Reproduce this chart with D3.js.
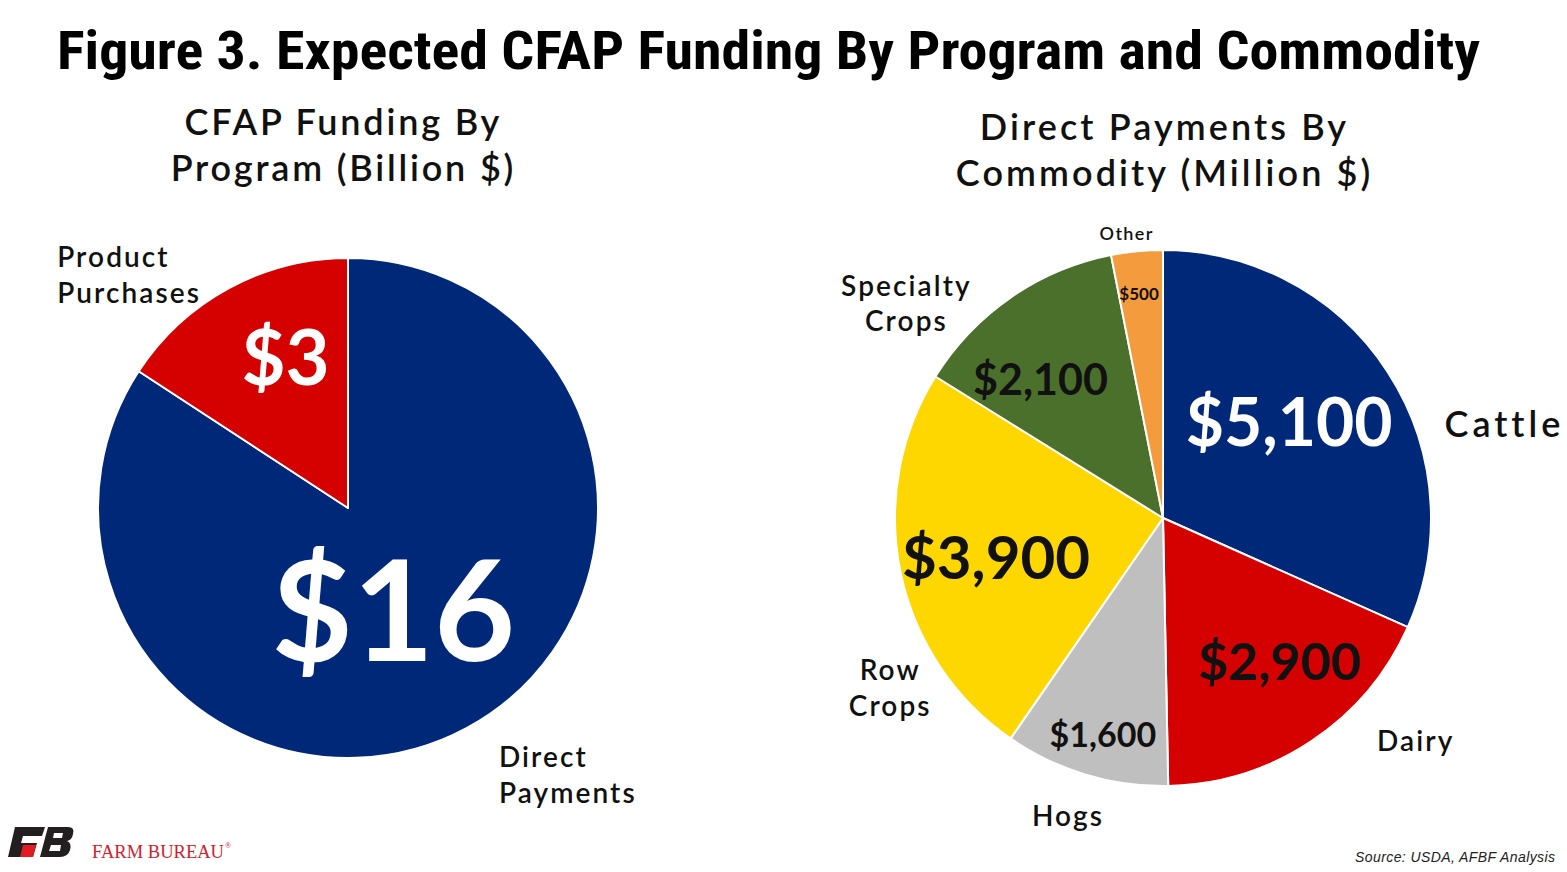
<!DOCTYPE html>
<html><head><meta charset="utf-8">
<script src="https://cdn.jsdelivr.net/npm/d3@7"></script>
<style>
body{margin:0;background:#fff;}
svg{display:block;}
.lbl{font-family:"Lato","Open Sans",sans-serif;font-weight:700;fill:#111;}
</style></head>
<body>
<svg id="chart" width="1567" height="872"></svg>
<script>
// ---- data ----
const titleText = "Figure 3. Expected CFAP Funding By Program and Commodity";
const leftTitle = ["CFAP Funding By", "Program (Billion $)"];
const rightTitle = ["Direct Payments By", "Commodity (Million $)"];

const programs = ["Direct Payments", "Product Purchases"];
const programValues = [16, 3];
const programValueLabels = ["$16", "$3"];

const commodities = ["Cattle", "Dairy", "Hogs", "Row Crops", "Specialty Crops", "Other"];
const commodityValues = [5100, 2900, 1600, 3900, 2100, 500];
const commodityValueLabels = ["$5,100", "$2,900", "$1,600", "$3,900", "$2,100", "$500"];

const sourceText = "Source: USDA, AFBF Analysis";

// ---- styles / layout ----
const programColors = ["#002878", "#D50000"];
const commodityColors = ["#002878", "#D50000", "#BFBFBF", "#FFD700", "#4A702B", "#F39B3D"];

// label layout: [angle(deg), radius factor, font size, anchor, color]
const programValueLayout = [
  [156.2, 0.45, 140, "middle", "#fff"],
  [337.4, 0.65, 76, "middle", "#fff"]
];
const programNameLayout = [
  [149.8, 1.20, 28, "start"],
  [309.6, 1.51, 28, "start"]
];
const commodityValueLayout = [
  [52.9, 0.59, 66, "middle", "#fff"],
  [140.9, 0.69, 52, "middle", "#111"],
  [195.5, 0.84, 34, "middle", "#111"],
  [256.8, 0.64, 60, "middle", "#111"],
  [318.5, 0.69, 43, "middle", "#111"],
  [353.9, 0.84, 17, "middle", "#111"]
];
const commodityNameLayout = [
  [74.0, 1.093, 36, "start"],
  [137.4, 1.18, 28, "start"],
  [197.3, 1.205, 28, "middle"],
  [239.4, 1.187, 28, "middle"],
  [310.8, 1.27, 28, "middle"],
  [352.4, 1.045, 18, "middle"]
];

const svg = d3.select("#chart");

// title
svg.append("text")
  .attr("x", 57).attr("y", 69)
  .attr("textLength", 1423).attr("lengthAdjust", "spacingAndGlyphs")
  .style("font-family", "'Liberation Sans Narrow','Roboto Condensed',Roboto,sans-serif")
  .style("font-weight", 700).style("font-size", "54px").style("fill", "#000")
  .text(titleText);

function drawPie(cx, cy, r, names, values, colors, valueLabels, valueLayout, nameLayout, subtitle, subX, subY, subLs) {
  const g = svg.append("g").attr("transform", `translate(${cx},${cy})`);
  const pie = d3.pie().sort(null).value(d => d)(values);
  const arc = d3.arc().innerRadius(0).outerRadius(r);
  g.selectAll("path.slice").data(pie).join("path")
    .attr("class", "slice")
    .attr("d", arc)
    .attr("fill", (d, i) => colors[i])
    .attr("stroke", "#fff").attr("stroke-width", 2).attr("stroke-linejoin", "round");

  const pos = (a, f) => {
    const t = a * Math.PI / 180;
    return [Math.sin(t) * r * f, -Math.cos(t) * r * f];
  };

  // value labels
  valueLabels.forEach((t, i) => {
    const L = valueLayout[i];
    const [x, y] = pos(L[0], L[1]);
    g.append("text").attr("class", "lbl")
      .attr("x", x).attr("y", y).attr("dy", "0.36em")
      .attr("text-anchor", L[3])
      .style("font-size", L[2] + "px").style("fill", L[4])
      .text(t);
  });
  // name labels
  names.forEach((n, i) => {
    const L = nameLayout[i];
    const [x, y] = pos(L[0], L[1]);
    const words = n.split(" ");
    const ls = i === 0 && names.length > 2 ? 0.11 : 0.075;
    const tx = g.append("text").attr("class", "lbl")
      .attr("x", x).attr("y", y)
      .attr("text-anchor", L[3])
      .style("font-size", L[2] + "px").style("font-weight", 600)
      .style("letter-spacing", ls + "em");
    words.forEach((w, k) => {
      tx.append("tspan").attr("x", L[3] === "middle" ? x + L[2] * ls / 2 : x)
        .attr("dy", k === 0 ? 0 : "1.28em").text(w);
    });
  });
  // subtitle
  const st = svg.append("text").attr("class", "lbl")
    .attr("x", subX).attr("y", subY).attr("text-anchor", "middle")
    .style("font-size", "36px").style("font-weight", 600)
    .style("letter-spacing", subLs + "em");
  subtitle.forEach((s, k) => st.append("tspan").attr("x", subX + 18 * subLs).attr("dy", k === 0 ? 0 : "1.27em").text(s));
}

drawPie(348, 508, 250, programs, programValues, programColors, programValueLabels,
  programValueLayout, programNameLayout, leftTitle, 342, 135, 0.078);
drawPie(1163, 518, 268, commodities, commodityValues, commodityColors, commodityValueLabels,
  commodityValueLayout, commodityNameLayout, rightTitle, 1163, 140, 0.086);

// source
svg.append("text").attr("x", 1355).attr("y", 862)
  .attr("textLength", 200).attr("lengthAdjust", "spacing")
  .style("font-family", "'Liberation Sans',Arial,sans-serif").style("font-style", "italic")
  .style("font-size", "14px").style("fill", "#222").text(sourceText);

// logo
const logo = svg.append("g");
logo.append("path").attr("d", "M15,827 L45,827 L42,836 L23,836 L21,843 L37,843 L33,857 L8,857 Z").attr("fill", "#231F20");
logo.append("path").attr("d", "M23,845 L36,845 L33,857 L20,857 Z").attr("fill", "#E31B23");
logo.append("path").attr("d", "M48,827 L68,827 Q75,827 73,834 Q72,840 67,841 Q72,843 70,850 Q68,857 60,857 L40,857 Z").attr("fill", "#231F20");
logo.append("path").attr("d", "M54,833 L63,833 L62,838 L53,838 Z M51,845 L61,845 L60,851 L49,851 Z").attr("fill", "#fff");
logo.append("text").attr("x", 92).attr("y", 858)
  .attr("textLength", 132).attr("lengthAdjust", "spacingAndGlyphs")
  .style("font-family", "'Liberation Serif','Times New Roman',serif")
  .style("font-size", "18px").style("fill", "#D0202E").text("FARM BUREAU");
logo.append("text").attr("x", 225).attr("y", 848)
  .style("font-family", "'Liberation Serif',serif").style("font-size", "8px").style("fill", "#D0202E").text("®");
</script>
</body></html>
